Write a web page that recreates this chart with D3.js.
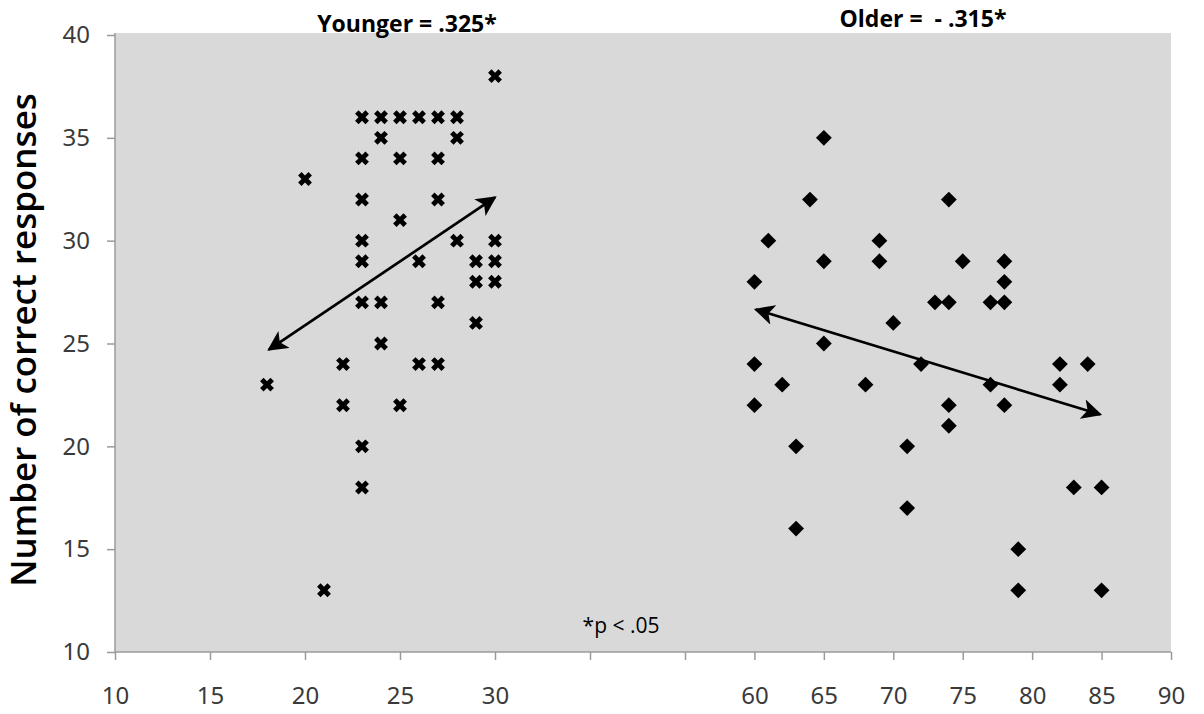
<!DOCTYPE html>
<html>
<head>
<meta charset="utf-8">
<script src="https://cdn.jsdelivr.net/npm/d3@7"></script>
<style>
  body { margin: 0; background: #fff; }
  svg { display: block; }
</style>
</head>
<body>
<svg id="chart" width="1204" height="714"></svg>
<script>
var width = 1204;
var height = 714;

// younger group: age, correct responses
var youngAge = [30, 23, 24, 25, 26, 27, 28, 24, 28, 23, 25, 27, 20, 23, 27, 25, 23, 28, 30,
                23, 26, 29, 30, 29, 30, 23, 24, 27, 29, 24, 22, 26, 27, 18, 22, 25, 23, 23, 21];
var youngScore = [38, 36, 36, 36, 36, 36, 36, 35, 35, 34, 34, 34, 33, 32, 32, 31, 30, 30, 30,
                  29, 29, 29, 29, 28, 28, 27, 27, 27, 26, 25, 24, 24, 24, 23, 22, 22, 20, 18, 13];

// older group
var oldAge = [65, 64, 74, 61, 69, 65, 69, 75, 78, 60, 78, 73, 74, 77, 78, 70, 65,
              60, 72, 82, 84, 62, 68, 77, 82, 60, 74, 78, 74, 63, 71, 83, 85, 71, 63, 79, 79, 85];
var oldScore = [35, 32, 32, 30, 30, 29, 29, 29, 29, 28, 28, 27, 27, 27, 27, 26, 25,
                24, 24, 24, 24, 23, 23, 23, 23, 22, 22, 22, 21, 20, 20, 18, 18, 17, 16, 15, 13, 13];

// trend arrows (start / end in data units)
var youngArrow = [[18.1, 24.7], [30.0, 32.1]];
var oldArrow = [[60.1, 26.65], [84.9, 21.55]];

var yTicks = [10, 15, 20, 25, 30, 35, 40];
var xTicksLeft = [10, 15, 20, 25, 30, 35, 40];
var xTicksRight = [60, 65, 70, 75, 80, 85, 90];
var shownLeft = [10, 15, 20, 25, 30];

var plotLeft = 115, plotRight = 1171, plotTop = 35, plotBottom = 652;

// axis is broken: 10-40 on the left, 55-90 on the right
var xL = d3.scaleLinear().domain([10, 40]).range([plotLeft, 685]);
var xR = d3.scaleLinear().domain([55, 90]).range([685, plotRight]);
var y = d3.scaleLinear().domain([10, 40]).range([plotBottom, plotTop]);

var svg = d3.select("#chart");

svg.append("rect")
    .attr("x", plotLeft)
    .attr("y", plotTop - 2)
    .attr("width", plotRight - plotLeft)
    .attr("height", plotBottom - plotTop + 2)
    .attr("fill", "#d9d9d9");

// y axis
svg.append("g")
    .attr("transform", `translate(${plotLeft},0)`)
    .call(d3.axisLeft(y).tickValues(yTicks).tickSize(8).tickPadding(17));

// x axis, two pieces
svg.append("g")
    .attr("transform", `translate(0,${plotBottom})`)
    .call(d3.axisBottom(xL).tickValues(xTicksLeft).tickSize(8).tickPadding(27)
        .tickFormat(d => shownLeft.includes(d) ? d : ""));

svg.append("g")
    .attr("transform", `translate(0,${plotBottom})`)
    .call(d3.axisBottom(xR).tickValues(xTicksRight).tickSize(8).tickPadding(27));

svg.selectAll(".domain").remove();

svg.append("line")
    .attr("x1", plotLeft).attr("x2", plotLeft)
    .attr("y1", plotTop - 2).attr("y2", plotBottom)
    .attr("stroke", "#9a9a9a")
    .attr("stroke-width", 1.5);
svg.append("line")
    .attr("x1", plotLeft).attr("x2", plotRight)
    .attr("y1", plotBottom).attr("y2", plotBottom)
    .attr("stroke", "#9a9a9a")
    .attr("stroke-width", 1.5);

svg.selectAll(".tick line").attr("stroke", "#9a9a9a").attr("stroke-width", 1.5);
svg.selectAll(".tick text")
    .attr("fill", "#3a3a3a")
    .style("font-family", "'Noto Sans', sans-serif")
    .style("font-size", "24px");

// y axis title
svg.append("text")
    .attr("transform", `translate(36,340) rotate(-90)`)
    .attr("text-anchor", "middle")
    .style("font-family", "'Open Sans', sans-serif")
    .style("font-weight", 600)
    .style("font-size", "35px")
    .attr("fill", "#000")
    .text("Number of correct responses");

// markers
var young = youngAge.map((a, i) => ({ age: a, score: youngScore[i] }));
var old = oldAge.map((a, i) => ({ age: a, score: oldScore[i] }));

svg.append("g")
    .selectAll("path")
    .data(young)
    .join("path")
    .attr("d", d3.symbol(d3.symbolCross, 120))
    .attr("transform", d => `translate(${xL(d.age)},${y(d.score)}) rotate(45)`)
    .attr("fill", "#000");

svg.append("g")
    .selectAll("path")
    .data(old)
    .join("path")
    .attr("d", d3.symbol(d3.symbolSquare, 125))
    .attr("transform", d => `translate(${xR(d.age)},${y(d.score)}) rotate(45)`)
    .attr("fill", "#000");

// arrows
var defs = svg.append("defs");
defs.append("marker")
    .attr("id", "head")
    .attr("viewBox", "0 0 10 10")
    .attr("refX", 9)
    .attr("refY", 5)
    .attr("markerWidth", 7.5)
    .attr("markerHeight", 7.5)
    .attr("orient", "auto-start-reverse")
    .append("path")
    .attr("d", "M0,0L10,5L0,10L2.5,5z")
    .attr("fill", "#000");

svg.append("line")
    .attr("x1", xL(youngArrow[0][0])).attr("y1", y(youngArrow[0][1]))
    .attr("x2", xL(youngArrow[1][0])).attr("y2", y(youngArrow[1][1]))
    .attr("stroke", "#000")
    .attr("stroke-width", 2.7)
    .attr("marker-start", "url(#head)")
    .attr("marker-end", "url(#head)");

svg.append("line")
    .attr("x1", xR(oldArrow[0][0])).attr("y1", y(oldArrow[0][1]))
    .attr("x2", xR(oldArrow[1][0])).attr("y2", y(oldArrow[1][1]))
    .attr("stroke", "#000")
    .attr("stroke-width", 2.7)
    .attr("marker-start", "url(#head)")
    .attr("marker-end", "url(#head)");

// annotations
function note(x, yy, txt, weight, size) {
    svg.append("text")
        .attr("x", x).attr("y", yy)
        .attr("text-anchor", "middle")
        .style("font-family", "'Open Sans', sans-serif")
        .style("font-weight", weight)
        .style("font-size", size + "px")
        .style("white-space", "pre")
        .attr("fill", "#000")
        .text(txt);
}
note(407, 32, "Younger = .325*", 700, 23);
note(923, 27, "Older =  - .315*", 700, 23);
note(621, 633, "*p < .05", 400, 21);
</script>
</body>
</html>
